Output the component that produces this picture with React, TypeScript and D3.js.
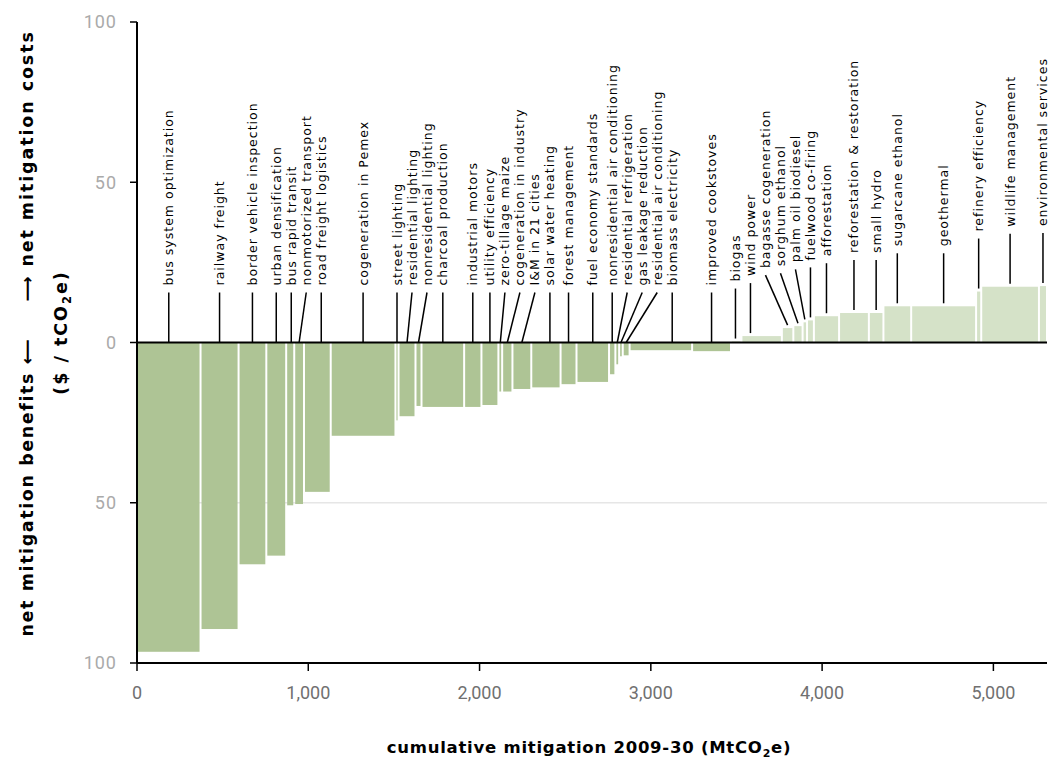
import React from "react";
import * as d3 from "d3";

const categories = [
  "bus system optimization", "railway freight", "border vehicle inspection", "urban densification",
  "bus rapid transit", "nonmotorized transport", "road freight logistics", "cogeneration in Pemex",
  "street lighting", "residential lighting", "nonresidential lighting", "charcoal production",
  "industrial motors", "utility efficiency", "zero-tillage maize", "cogeneration in industry",
  "I&M in 21 cities", "solar water heating", "forest management", "fuel economy standards",
  "nonresidential air conditioning", "residential refrigeration", "gas leakage reduction",
  "residential air conditioning", "biomass electricity", "improved cookstoves", "biogas",
  "wind power", "bagasse cogeneration", "sorghum ethanol", "palm oil biodiesel",
  "fuelwood co-firing", "afforestation", "reforestation & restoration", "small hydro",
  "sugarcane ethanol", "geothermal", "refinery efficiency", "wildlife management",
  "environmental services",
];

// abatement potential, MtCO2e (bar widths)
const potentials = [
  371, 222, 162, 116, 47, 57, 156, 378, 18, 99, 35, 249, 101, 99, 22, 60, 110, 171, 93, 190,
  37, 22, 21, 40, 365, 227, 61, 236, 67, 54, 26, 40, 147, 174, 85, 162, 379, 30, 337, 47,
];

// net mitigation cost, $ / tCO2e (negative = net benefit)
const costs = [
  -96.5, -89.4, -69.2, -66.5, -50.8, -50.4, -46.6, -29.1, -24.3, -23.0, -19.8, -20.1, -20.1,
  -19.5, -15.3, -15.3, -14.5, -14.0, -13.0, -12.3, -9.9, -6.8, -4.3, -4.0, -2.4, -2.7, 0.3,
  2.0, 4.5, 5.1, 6.3, 6.9, 8.2, 9.2, 9.2, 11.3, 11.3, 15.9, 17.4, 17.6,
];

const xTicks = [0, 1000, 2000, 3000, 4000, 5000];
const yTicks = [-100, -50, 0, 50, 100];
const xMax = 5313;

const W = 1054;
const H = 762;
const left = 137;
const right = 1047;
const top = 22;
const bottom = 663;

const negColor = "#aec495";
const posColor = "#d5e2c8";
const labelFont = "'DejaVu Sans', sans-serif";
const tickFont = "Roboto, 'DejaVu Sans', sans-serif";

export default function App() {
  const x = d3.scaleLinear().domain([0, xMax]).range([left, right]);
  const y = d3.scaleLinear().domain([-100, 100]).range([bottom, top]);
  const ends = Array.from(d3.cumsum(potentials));
  const bars = categories.map((name, i) => {
    const x0 = i === 0 ? 0 : ends[i - 1];
    const x1 = ends[i];
    return { name, x0, x1, cost: costs[i] };
  });

  // label layout: negatives pushed rightwards, positives pushed leftwards
  const spacing = 15;
  const centers = bars.map((b) => (x(b.x0) + x(b.x1)) / 2);
  const pos = centers.slice();
  for (let i = 1; i < bars.length; i++) {
    if (bars[i].cost < 0 && bars[i - 1].cost < 0) pos[i] = Math.max(centers[i], pos[i - 1] + spacing);
  }
  for (let i = bars.length - 2; i >= 0; i--) {
    if (bars[i].cost >= 0) pos[i] = Math.min(centers[i], pos[i + 1] - spacing);
  }

  const fmt = d3.format(",");
  const zeroY = y(0);

  return (
    <svg width={W} height={H} style={{ position: "absolute", left: 0, top: 0, background: "#fff" }}>
      {/* gridline */}
      <line x1={left} x2={right} y1={y(-50)} y2={y(-50)} stroke="#e6e6e6" strokeWidth={1.5} />
      {/* bars */}
      {bars.map((b, i) => {
        const px0 = x(b.x0) + 1;
        const px1 = x(b.x1) - 1;
        const yv = y(b.cost);
        return (
          <rect
            key={"b" + i}
            x={px0}
            width={Math.max(0.8, px1 - px0)}
            y={Math.min(yv, zeroY)}
            height={Math.abs(yv - zeroY)}
            fill={b.cost < 0 ? negColor : posColor}
          />
        );
      })}
      {/* leaders & labels */}
      {bars.map((b, i) => {
        const base = b.cost < 0 ? zeroY : y(b.cost) - 3;
        const topY = base - 50;
        const c = centers[i];
        const lx = pos[i];
        const bx0 = x(b.x0);
        const bx1 = x(b.x1);
        let bx = c;
        if (Math.abs(lx - c) <= 4.5) bx = lx;
        else if (bx1 - bx0 >= 35 && lx > bx0 + 3 && lx < bx1 - 3) bx = lx;
        return (
          <g key={"l" + i}>
            <line x1={bx} y1={base} x2={lx} y2={topY} stroke="#000" strokeWidth={1.5} />
            <text
              transform={`translate(${lx},${topY - 7}) rotate(-90)`}
              dy="0.36em"
              fontFamily={labelFont}
              fontSize={12.5}
              letterSpacing={1}
              fill="#000"
            >
              {b.name}
            </text>
          </g>
        );
      })}
      {/* zero line */}
      <line x1={left} x2={right} y1={zeroY} y2={zeroY} stroke="#000" strokeWidth={2} />
      {/* y axis */}
      <line x1={left} x2={left} y1={top} y2={bottom} stroke="#000" strokeWidth={2} />
      {yTicks.map((t) => (
        <g key={"yt" + t}>
          <line x1={left - 7} x2={left} y1={y(t)} y2={y(t)} stroke="#000" strokeWidth={1.5} />
          <text
            x={left - 20}
            y={y(t)}
            dy="0.36em"
            textAnchor="end"
            fontFamily={tickFont}
            fontSize={18}
            letterSpacing={1}
            fill="#aaaaaa"
          >
            {Math.abs(t)}
          </text>
        </g>
      ))}
      {/* x axis */}
      <line x1={left} x2={right} y1={bottom} y2={bottom} stroke="#000" strokeWidth={2} />
      {xTicks.map((t) => (
        <g key={"xt" + t}>
          <line x1={x(t)} x2={x(t)} y1={bottom} y2={bottom + 8} stroke="#000" strokeWidth={1.5} />
          <text
            x={x(t)}
            y={bottom + 36}
            textAnchor="middle"
            fontFamily={tickFont}
            fontSize={18}
            fill="#707070"
          >
            {fmt(t)}
          </text>
        </g>
      ))}
      {/* axis titles */}
      <text
        x={589}
        y={753}
        textAnchor="middle"
        fontFamily={labelFont}
        fontWeight="bold"
        fontSize={16.5}
        letterSpacing={0.75}
        fill="#000"
      >
        cumulative mitigation 2009-30 (MtCO
        <tspan fontSize={11} dy={4}>2</tspan>
        <tspan dy={-4}>e)</tspan>
      </text>
      <text
        transform={`translate(27,${zeroY - 5}) rotate(-90)`}
        dy="0.36em"
        textAnchor="end"
        fontFamily={labelFont}
        fontWeight="bold"
        fontSize={17.5}
        letterSpacing={1.6}
        fill="#000"
      >
        net mitigation benefits ⟵
      </text>
      <text
        transform={`translate(27,${zeroY - 41}) rotate(-90)`}
        dy="0.36em"
        textAnchor="start"
        fontFamily={labelFont}
        fontWeight="bold"
        fontSize={17.5}
        letterSpacing={1.9}
        fill="#000"
      >
        ⟶ net mitigation costs
      </text>
      <text
        transform={`translate(61,${zeroY - 10}) rotate(-90)`}
        dy="0.36em"
        textAnchor="middle"
        fontFamily={labelFont}
        fontWeight="bold"
        fontSize={17.5}
        letterSpacing={2}
        fill="#000"
      >
        ($ / tCO
        <tspan fontSize={11.5} dy={4}>2</tspan>
        <tspan dy={-4}>e)</tspan>
      </text>
    </svg>
  );
}
